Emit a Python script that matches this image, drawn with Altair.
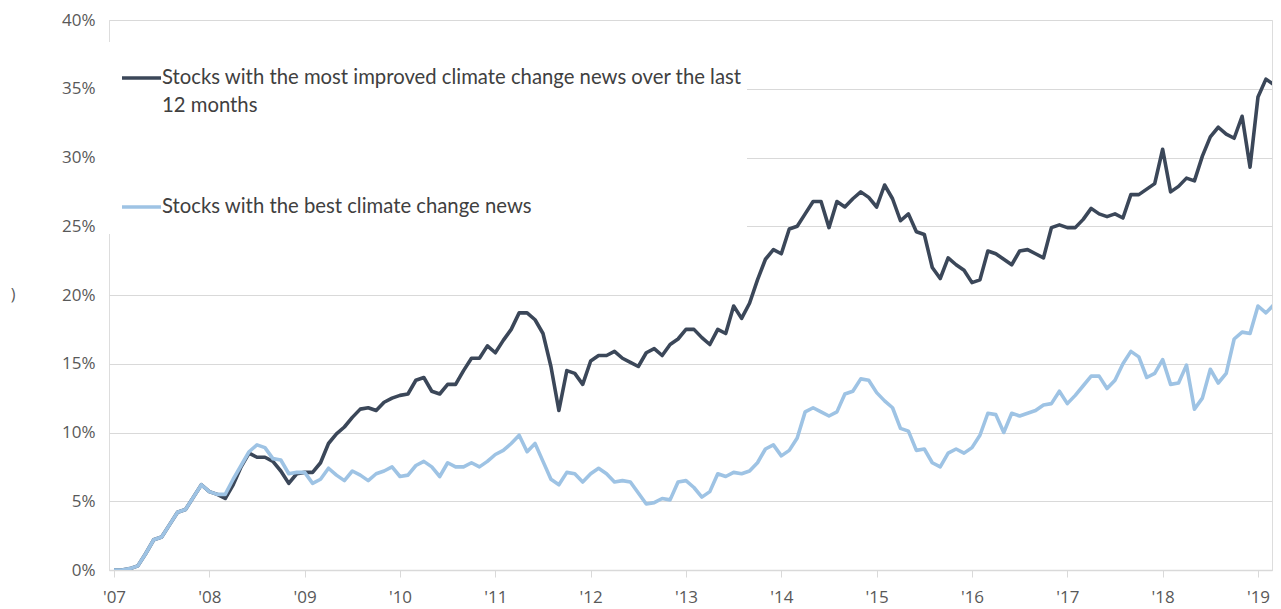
import altair as alt
import pandas as pd

# ---- data (monthly, Jan 2007 .. Apr 2019, in %) ----
improved = [
    0.0, 0.0, 0.1, 0.3, 1.2, 2.2, 2.4, 3.3, 4.2, 4.4, 5.3, 6.2,
    5.7, 5.5, 5.2, 6.2, 7.5, 8.5, 8.2, 8.2, 7.9, 7.2, 6.3, 7.0,
    7.1, 7.1, 7.8, 9.2, 9.9, 10.4, 11.1, 11.7, 11.8, 11.6, 12.2, 12.5,
    12.7, 12.8, 13.8, 14.0, 13.0, 12.8, 13.5, 13.5, 14.5, 15.4, 15.4, 16.3,
    15.8, 16.7, 17.5, 18.7, 18.7, 18.2, 17.2, 14.8, 11.6, 14.5, 14.3, 13.5,
    15.2, 15.6, 15.6, 15.9, 15.4, 15.1, 14.8, 15.8, 16.1, 15.6, 16.4, 16.8,
    17.5, 17.5, 16.9, 16.4, 17.5, 17.2, 19.2, 18.3, 19.4, 21.1, 22.6, 23.3,
    23.0, 24.8, 25.0, 25.9, 26.8, 26.8, 24.9, 26.8, 26.4, 27.0, 27.5, 27.1,
    26.4, 28.0, 27.0, 25.4, 25.9, 24.6, 24.4, 22.0, 21.2, 22.7, 22.2, 21.8,
    20.9, 21.1, 23.2, 23.0, 22.6, 22.2, 23.2, 23.3, 23.0, 22.7, 24.9, 25.1,
    24.9, 24.9, 25.5, 26.3, 25.9, 25.7, 25.9, 25.6, 27.3, 27.3, 27.7, 28.1,
    30.6, 27.5, 27.9, 28.5, 28.3, 30.1, 31.5, 32.2, 31.7, 31.4, 33.0, 29.3,
    34.4, 35.7, 35.3, 35.0,
]
best = [
    0.0, 0.0, 0.1, 0.3, 1.2, 2.2, 2.4, 3.3, 4.2, 4.4, 5.3, 6.2,
    5.7, 5.5, 5.5, 6.6, 7.6, 8.6, 9.1, 8.9, 8.1, 8.0, 7.0, 7.1,
    7.1, 6.3, 6.6, 7.4, 6.9, 6.5, 7.2, 6.9, 6.5, 7.0, 7.2, 7.5,
    6.8, 6.9, 7.6, 7.9, 7.5, 6.8, 7.8, 7.5, 7.5, 7.8, 7.5, 7.9,
    8.4, 8.7, 9.2, 9.8, 8.6, 9.2, 7.9, 6.6, 6.2, 7.1, 7.0, 6.4,
    7.0, 7.4, 7.0, 6.4, 6.5, 6.4, 5.6, 4.8, 4.9, 5.2, 5.1, 6.4,
    6.5, 6.0, 5.3, 5.7, 7.0, 6.8, 7.1, 7.0, 7.2, 7.8, 8.8, 9.1,
    8.3, 8.7, 9.6, 11.5, 11.8, 11.5, 11.2, 11.5, 12.8, 13.0, 13.9, 13.8,
    12.9, 12.3, 11.8, 10.3, 10.1, 8.7, 8.8, 7.8, 7.5, 8.5, 8.8, 8.5,
    8.9, 9.8, 11.4, 11.3, 10.0, 11.4, 11.2, 11.4, 11.6, 12.0, 12.1, 13.0,
    12.1, 12.7, 13.4, 14.1, 14.1, 13.2, 13.8, 15.0, 15.9, 15.5, 14.0, 14.3,
    15.3, 13.5, 13.6, 14.9, 11.7, 12.5, 14.6, 13.6, 14.3, 16.8, 17.3, 17.2,
    19.2, 18.7, 19.3, 19.8,
]
start_year = 2007
year_ticks = list(range(2007, 2020))
pct_ticks = list(range(0, 45, 5))
legend_lines = [
    "Stocks with the most improved climate change news over the last",
    "12 months",
    "Stocks with the best climate change news",
]

# ---- tables ----
t = [start_year + i / 12 for i in range(len(improved))]
df_imp = pd.DataFrame({"t": t, "v": improved})
df_best = pd.DataFrame({"t": t, "v": best})
one = pd.DataFrame({"k": [0]})

DARK = "#3b4759"
LIGHT = "#9ec3e4"
AXIS_TXT = "#595959"
GRID = "#d9d9d9"

W, H = 1163, 550
X0, X1 = 2006.9476, 2019.147

x_enc = alt.X(
    "t:Q",
    scale=alt.Scale(domain=[X0, X1], nice=False, zero=False),
    axis=alt.Axis(
        values=year_ticks,
        labelExpr="\"'\" + slice(toString(datum.value), 2)",
        title=None,
        grid=False,
        domainColor=GRID,
        domainWidth=1.5,
        tickColor=GRID,
        tickSize=7,
        tickWidth=1,
        labelFont="Open Sans",
        labelFontSize=17,
        labelColor=AXIS_TXT,
        labelPadding=12,
        labelFlush=False,
    ),
)
y_enc = alt.Y(
    "v:Q",
    scale=alt.Scale(domain=[0, 40], nice=False),
    axis=alt.Axis(
        values=pct_ticks,
        labelExpr="datum.value + '%'",
        title=None,
        grid=True,
        gridColor=GRID,
        gridWidth=1.2,
        domain=False,
        ticks=False,
        labelFont="Open Sans",
        labelFontSize=17,
        labelColor=AXIS_TXT,
        labelPadding=14,
    ),
)

line_dark = alt.Chart(df_imp).mark_line(
    color=DARK, strokeWidth=3.6, clip=True, strokeJoin="round"
).encode(x=x_enc, y=y_enc)
line_light = alt.Chart(df_best).mark_line(
    color=LIGHT, strokeWidth=3.6, clip=True, strokeJoin="round"
).encode(x=x_enc, y=y_enc)

box = alt.Chart(one).mark_rect(fill="white").encode(
    x=alt.value(0), x2=alt.value(638), y=alt.value(22), y2=alt.value(214)
)
sym_dark = alt.Chart(one).mark_rule(color=DARK, strokeWidth=3.6).encode(
    x=alt.value(13), x2=alt.value(52), y=alt.value(58)
)
sym_light = alt.Chart(one).mark_rule(color=LIGHT, strokeWidth=3.6).encode(
    x=alt.value(13), x2=alt.value(52), y=alt.value(187)
)

def legend_text(label, ypos):
    d = pd.DataFrame({"label": [label]})
    return alt.Chart(d).mark_text(
        align="left", baseline="middle", font="Lato", fontSize=20.3, color="#404040"
    ).encode(x=alt.value(53), y=alt.value(ypos), text="label:N")

txt1 = legend_text(legend_lines[0], 58)
txt2 = legend_text(legend_lines[1], 86)
txt3 = legend_text(legend_lines[2], 187)

stray = alt.Chart(pd.DataFrame({"s": [")"]})).mark_text(
    align="center", baseline="middle", font="Open Sans", fontSize=16, color=AXIS_TXT
).encode(x=alt.value(-96), y=alt.value(275), text="s:N")

chart = alt.layer(
    line_dark, line_light, box, sym_dark, sym_light, txt1, txt2, txt3, stray
).properties(
    width=W,
    height=H,
    autosize=alt.AutoSizeParams(type="none"),
    padding={"left": 101, "top": 12, "right": 1, "bottom": 38},
).configure_view(stroke=None).configure(background="white")

chart.save("out.html", embed_options={"renderer": "svg", "actions": False})
